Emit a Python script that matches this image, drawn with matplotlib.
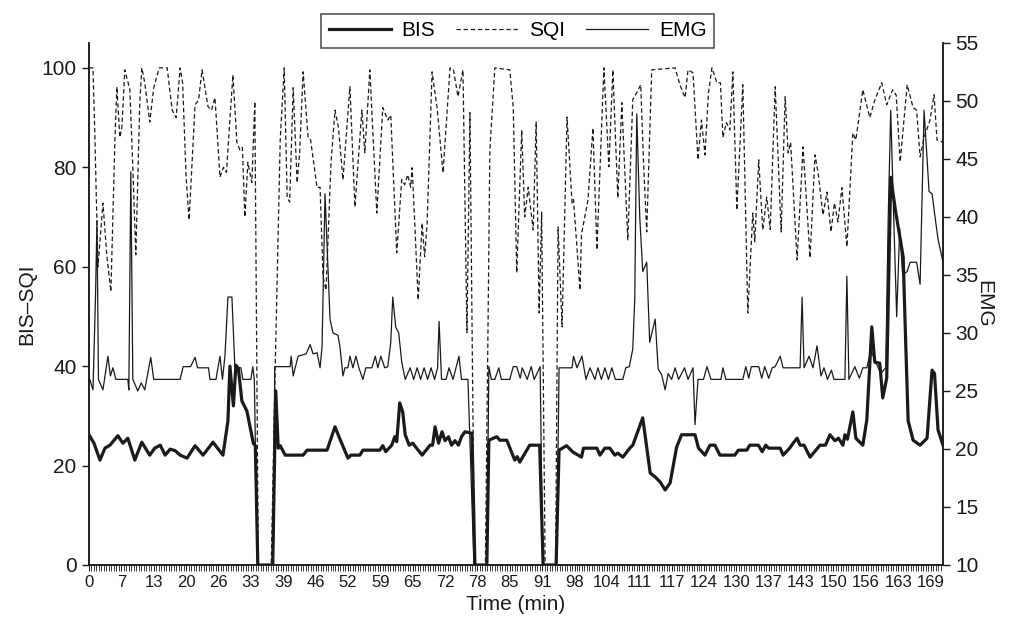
import matplotlib
matplotlib.use("Agg")
import matplotlib.pyplot as plt
import numpy as np
from matplotlib.lines import Line2D

plt.rcParams['font.family'] = ['Liberation Sans', 'DejaVu Sans']

# ---------------- data ----------------
bis_t = [0, 1, 2.2, 3.2, 4.2, 5.8, 6.8, 7.8, 9.2, 10.6,
         12.2, 13.2, 14.3, 15.3, 16.3, 17.3, 18.3, 19.7, 21.3, 22.9,
         24.9, 26.9, 27.9, 28.3, 29.0, 29.5, 30.0, 30.7, 31.7, 33.0,
         33.4, 33.9, 36.9, 37.5, 38.0, 38.4, 39.4, 43.0, 43.8, 47.8,
         49.4, 50.2, 52.0, 52.6, 54.4, 55.0, 58.4, 59.0, 59.6, 60.8,
         61.4, 61.8, 62.4, 63.0, 63.5, 64.3, 65.0, 66.9, 68.5, 69.0,
         69.5, 70.2, 70.9, 71.5, 72.2, 72.8, 73.5, 74.2, 74.8, 75.5,
         76.9, 77.5, 79.9, 80.3, 81.9, 82.5, 83.9, 85.5, 86.0, 86.5,
         88.5, 90.5, 91.2, 93.8, 94.4, 95.9, 97.2, 98.9, 99.3, 102.0,
         102.6, 103.6, 104.6, 105.6, 106.2, 107.2, 108.6, 109.2, 111.2, 112.7,
         113.7, 114.7, 115.7, 116.7, 118.0, 119.0, 121.7, 122.4, 123.7, 124.7,
         125.7, 126.7, 129.7, 130.4, 132.1, 132.7, 134.4, 135.2, 135.9, 136.5,
         137.0, 138.8, 139.4, 140.7, 141.4, 142.2, 142.8, 143.6, 144.8, 146.8,
         147.9, 148.8, 149.8, 150.5, 151.4, 151.8, 152.3, 153.4, 154.0, 155.4,
         156.2, 157.2, 157.8, 158.8, 159.4, 160.2, 161.0, 162.0, 162.6, 163.5,
         164.0, 164.5, 165.5, 166.9, 168.3, 169.3, 169.8, 170.5, 171.5]
bis_v = [26.2, 24.5, 21.1, 23.5, 24.1, 26.0, 24.5, 25.5, 21.1, 24.7,
         22.1, 23.5, 24.1, 22.1, 23.3, 23.0, 22.1, 21.5, 24.0, 22.1,
         24.7, 22.1, 29.0, 40.0, 32.0, 40.2, 39.5, 33.0, 31.0, 24.5,
         24.0, 0, 0, 35.0, 23.5, 24.0, 22.1, 22.1, 23.1, 23.1,
         27.8, 25.8, 21.5, 22.1, 22.1, 23.1, 23.1, 24.0, 22.8, 24.1,
         25.8, 24.8, 32.6, 30.8, 26.2, 24.1, 24.5, 22.1, 24.1, 24.1,
         27.8, 24.5, 26.8, 25.0, 25.8, 24.1, 25.0, 24.1, 25.8, 26.8,
         26.5, 0, 0, 25.1, 25.8, 25.1, 25.1, 21.1, 21.8, 20.7,
         24.1, 24.1, 0, 0, 23.1, 24.0, 22.7, 21.7, 23.5, 23.5,
         22.1, 23.5, 23.5, 22.1, 22.5, 21.7, 23.5, 24.1, 29.6, 18.5,
         17.7, 16.7, 15.1, 16.5, 23.7, 26.2, 26.2, 23.5, 22.1, 24.1,
         24.1, 22.1, 22.1, 23.1, 23.1, 24.1, 24.1, 22.8, 24.1, 23.5,
         23.5, 23.5, 22.1, 23.5, 24.5, 25.5, 24.1, 24.1, 21.7, 24.1,
         24.1, 26.2, 25.0, 25.5, 24.1, 26.2, 25.3, 30.8, 25.5, 24.1,
         29.2, 47.9, 40.8, 40.6, 33.6, 37.6, 78.0, 71.0, 67.4, 62.0,
         45.0, 29.0, 25.1, 24.1, 25.5, 39.2, 38.5, 27.2, 24.1]

sqi_t = [0, 0.8, 1.2, 1.8, 2.8, 3.6, 4.4, 5.2, 5.6, 6.2,
         6.6, 7.2, 8.2, 8.8, 9.4, 10.2, 10.6, 11.2, 12.2, 13.0,
         14.1, 15.7, 16.7, 17.5, 18.3, 18.8, 19.5, 20.1, 21.3, 22.0,
         22.7, 23.9, 24.6, 25.3, 26.3, 27.0, 27.6, 28.9, 29.7, 30.3,
         30.8, 31.3, 31.9, 32.7, 33.3, 34.0, 36.6, 37.4, 38.4, 39.2,
         39.8, 40.3, 41.0, 41.8, 42.3, 43.0, 44.0, 44.5, 45.8, 46.4,
         47.0, 47.6, 48.6, 49.4, 50.1, 51.0, 52.4, 53.4, 54.8, 55.4,
         56.4, 57.8, 59.0, 60.0, 60.6, 61.8, 62.8, 63.4, 64.0, 64.6,
         64.9, 65.5, 66.1, 66.9, 67.4, 67.9, 68.9, 69.9, 71.1, 72.5,
         73.2, 74.1, 75.1, 75.9, 76.5, 77.4, 79.6, 80.1, 80.5, 81.5,
         84.5, 85.2, 85.9, 86.9, 87.5, 88.2, 89.2, 89.8, 90.4, 90.9,
         91.6, 93.7, 94.2, 95.0, 96.0, 97.0, 97.3, 98.6, 98.9, 100.2,
         101.2, 102.0, 103.4, 104.4, 105.2, 106.2, 107.0, 108.2, 109.2, 110.0,
         110.8, 111.4, 112.0, 113.0, 117.7, 118.7, 119.7, 120.3, 121.3, 122.3,
         123.0, 123.7, 124.4, 125.1, 126.1, 126.8, 127.3, 128.0, 128.7, 129.3,
         130.1, 131.3, 132.3, 133.3, 133.7, 134.5, 135.3, 136.1, 136.8, 137.8,
         139.0, 139.8, 140.4, 140.9, 142.2, 143.4, 144.8, 145.8, 146.4, 147.4,
         148.2, 149.0, 149.7, 150.4, 151.2, 152.2, 153.4, 154.0, 155.4, 156.8,
         157.8, 159.2, 160.2, 161.4, 162.1, 162.9, 164.3, 165.5, 166.2, 166.9,
         167.7, 168.9, 169.7, 170.3, 171.5]
sqi_v = [100, 100, 85.5, 60, 72.8, 62, 55, 85.5, 96.2, 86,
         88, 99.6, 95.6, 80, 62.4, 93, 100, 97, 89.1, 96,
         100, 100, 91.5, 90, 100, 97, 78, 69.4, 92.6, 93.5,
         99.6, 92.2, 91.5, 94, 78, 80, 79, 98.6, 85, 83.5,
         84, 70, 81, 76.9, 93.2, 0, 0, 40, 85.5, 100,
         74, 73, 96, 76.9, 83, 99.2, 86, 85.5, 75.9, 76,
         58, 55.3, 80.9, 91.5, 88, 77.5, 96.2, 72, 91.5, 82.9,
         99.6, 70.8, 92, 89.5, 90.5, 62.8, 77.5, 76.5, 78.5, 76,
         79.9, 67, 53.3, 68.8, 62, 68.8, 99.2, 92, 78.9, 100,
         99.6, 94.2, 99.6, 46.7, 91, 0, 0, 45, 83.5, 100,
         99.6, 92, 58.8, 87.5, 70, 76, 67.4, 89.1, 50.7, 71,
         0, 0, 68, 47.9, 90.1, 72.8, 73.5, 55.3, 66.5, 73.4,
         87.9, 63.4, 100, 80.1, 99.6, 73.8, 93, 65.4, 93.6, 95,
         96.6, 80, 67, 99.6, 100, 96.5, 94, 99.6, 99, 81.5,
         89.5, 82.5, 95, 100, 97, 97, 86, 89, 87.5, 99.2,
         71.4, 96.6, 50.7, 70.8, 65, 81.5, 67.4, 74, 67.5, 96.2,
         67, 94.2, 82.9, 85, 61.4, 84.1, 61.8, 82.5, 79, 70.4,
         75, 67, 72.8, 69, 75.9, 64, 86.9, 85.5, 95.6, 90,
         93.5, 97, 92.6, 95.6, 94.5, 81.1, 96.6, 92, 91.5, 82.1,
         86, 89.5, 94.6, 85.5, 85]

emg_t = [0, 0.8, 1.3, 1.6, 1.9, 2.8, 3.8, 4.3, 4.8, 5.4,
         7.8, 8.0, 8.4, 8.8, 9.8, 10.5, 11.2, 12.4, 13.0, 18.3,
         18.9, 20.4, 21.3, 21.8, 24.0, 24.3, 25.5, 26.3, 26.8, 27.3,
         27.9, 28.7, 29.3, 30.5, 30.9, 32.5, 32.9, 33.2, 33.8, 37.0,
         37.3, 40.4, 40.6, 41.0, 42.0, 43.6, 44.4, 45.0, 45.8, 46.4,
         46.8, 47.4, 48.4, 49.0, 50.0, 50.4, 51.0, 51.4, 52.0, 52.4,
         53.0, 53.6, 54.2, 55.0, 55.6, 56.8, 57.5, 58.0, 58.6, 59.4,
         60.0, 60.6, 61.0, 61.6, 62.2, 62.8, 63.5, 64.5, 65.2, 65.9,
         66.6, 67.3, 68.0, 68.7, 69.4, 70.0, 70.3, 70.8, 71.7, 72.3,
         73.1, 74.3, 74.8, 76.1, 77.3, 79.9, 80.3, 80.8, 81.5, 82.3,
         82.8, 84.5, 85.2, 85.9, 86.6, 87.0, 88.0, 88.8, 89.4, 90.6,
         91.1, 93.9, 94.4, 97.0, 97.3, 98.0, 99.0, 99.8, 100.6, 101.6,
         102.2, 102.9, 103.6, 104.3, 105.0, 105.7, 107.2, 107.8, 108.5, 109.2,
         109.6, 110.0, 110.6, 111.2, 112.0, 112.6, 113.7, 114.3, 115.0, 115.7,
         116.3, 117.0, 117.7, 118.4, 119.6, 120.3, 121.3, 121.7, 122.3, 123.4,
         124.1, 124.9, 126.9, 127.3, 127.9, 131.3, 131.9, 132.5, 133.0, 134.5,
         135.1, 135.7, 136.5, 137.2, 137.8, 138.8, 139.4, 142.8, 143.2, 143.6,
         144.6, 145.4, 146.2, 147.0, 147.6, 148.3, 149.1, 149.6, 151.8, 152.2,
         152.6, 153.8, 154.7, 155.4, 156.2, 157.0, 158.0, 159.0, 160.0, 160.5,
         161.0, 161.6, 162.2, 162.8, 163.4, 164.3, 164.9, 166.2, 166.9, 167.7,
         168.7, 169.3, 169.9, 170.5, 171.5]
emg_v = [26.2, 25.1, 33, 39.7, 26, 25.1, 28, 26.3, 27, 26,
         26, 25.1, 43.9, 26, 25, 25.7, 25.1, 27.9, 26, 26,
         27.1, 27.1, 27.9, 27, 27, 26, 26, 28, 26, 28,
         33.1, 33.1, 27, 27, 26, 26, 27.1, 26, 10, 10,
         27.1, 27.1, 28, 26.3, 28, 28.2, 29, 28.2, 28.3, 27,
         28.8, 42, 31.2, 30, 29.8, 28.8, 26.3, 27, 27, 28,
         27, 28, 27, 26, 27, 27, 28, 27, 28, 27,
         27.1, 29.2, 33.1, 30.5, 30, 27.5, 26, 27, 26, 27,
         26, 27, 26, 27, 26, 27, 31, 26, 26, 27,
         26, 28, 26, 26, 10, 10, 27.1, 26, 26, 27,
         26, 26, 27.1, 27.1, 26.1, 27, 26, 27.1, 26, 27.1,
         10, 10, 27, 27, 28, 27, 28, 26, 27, 26,
         27, 26, 27, 26, 27, 26, 26, 27, 27.1, 28.6,
         33, 48.9, 40, 35.3, 36.1, 29.2, 31.2, 26.9, 26.4, 25.1,
         26.5, 26, 27, 26, 27, 26, 27, 22.1, 26, 26,
         27.1, 26, 26, 27, 26, 26, 27.1, 26.1, 27.1, 27.1,
         26.1, 27.1, 26.1, 27, 27.1, 28, 27, 27, 33.1, 27,
         28, 27, 28.9, 26.3, 27, 26, 26.8, 26, 26, 34.9,
         26, 27.1, 26.1, 27, 27, 28.5, 27.5, 26.5, 27, 40,
         49.2, 40, 31.4, 39, 35, 35.3, 36.1, 36.1, 34.2, 49.2,
         42.2, 42, 40, 38.1, 36.1]

label_step = 6.5
n_labels = 27
x_tick_pos = [label_step * k for k in range(n_labels)]
x_tick_labels = [str(int(np.floor(p + 0.5))) for p in x_tick_pos]

# ---------------- figure ----------------
W, H = 1011, 620
fig = plt.figure(figsize=(W / 100, H / 100), dpi=100)
ax = fig.add_axes([89 / W, 1 - 565 / H, (943 - 89) / W, (565 - 43) / H])
ax2 = ax.twinx()

ink = '#1a1a1a'
l_sqi, = ax.plot(sqi_t, sqi_v, color=ink, lw=0.9, linestyle=(0, (3.5, 2.2)))
l_bis, = ax.plot(bis_t, bis_v, color=ink, lw=2.3, solid_joinstyle='round')
l_emg, = ax2.plot(emg_t, emg_v, color=ink, lw=0.9)

ax.set_xlim(0, 171.5)
ax.set_ylim(0, 105)
ax2.set_ylim(10, 55)
ax.set_yticks(np.arange(0, 101, 20))
ax2.set_yticks(np.arange(10, 56, 5))
ax.set_xticks(x_tick_pos)
ax.set_xticklabels(x_tick_labels)
ax.set_xticks(np.arange(0, 171.5, 0.5), minor=True)

for a in (ax, ax2):
    for s in a.spines.values():
        s.set_color(ink)
        s.set_linewidth(1.1)
    a.spines['top'].set_visible(False)

ax.tick_params(axis='y', labelsize=15, length=5, width=1, colors=ink, pad=4)
ax2.tick_params(axis='y', labelsize=15, length=5, width=1, colors=ink, pad=4)
ax.tick_params(axis='x', which='major', labelsize=12, length=4, width=0.7, colors=ink, pad=3)
ax.tick_params(axis='x', which='minor', length=4, width=0.6, colors=ink)

ax.set_xlabel('Time (min)', fontsize=15, color=ink, labelpad=4)
ax.set_ylabel('BIS–SQI', fontsize=15, color=ink, labelpad=4)
ax2.set_ylabel('EMG', fontsize=15, color=ink, rotation=270, labelpad=10)

handles = [Line2D([], [], color=ink, lw=2.3),
           Line2D([], [], color=ink, lw=0.9, linestyle=(0, (3.5, 2.2))),
           Line2D([], [], color=ink, lw=0.9)]
leg = fig.legend(handles, ['BIS', 'SQI', 'EMG'], loc='center',
                 bbox_to_anchor=(517.5 / W, 1 - 31 / H), bbox_transform=fig.transFigure,
                 ncol=3, fontsize=15, frameon=True, fancybox=False,
                 handlelength=3.0, handletextpad=0.5, columnspacing=1.0,
                 borderpad=0.35, borderaxespad=0)
leg.get_frame().set_edgecolor(ink)
leg.get_frame().set_linewidth(1.1)

fig.savefig('out.png', dpi=100)
